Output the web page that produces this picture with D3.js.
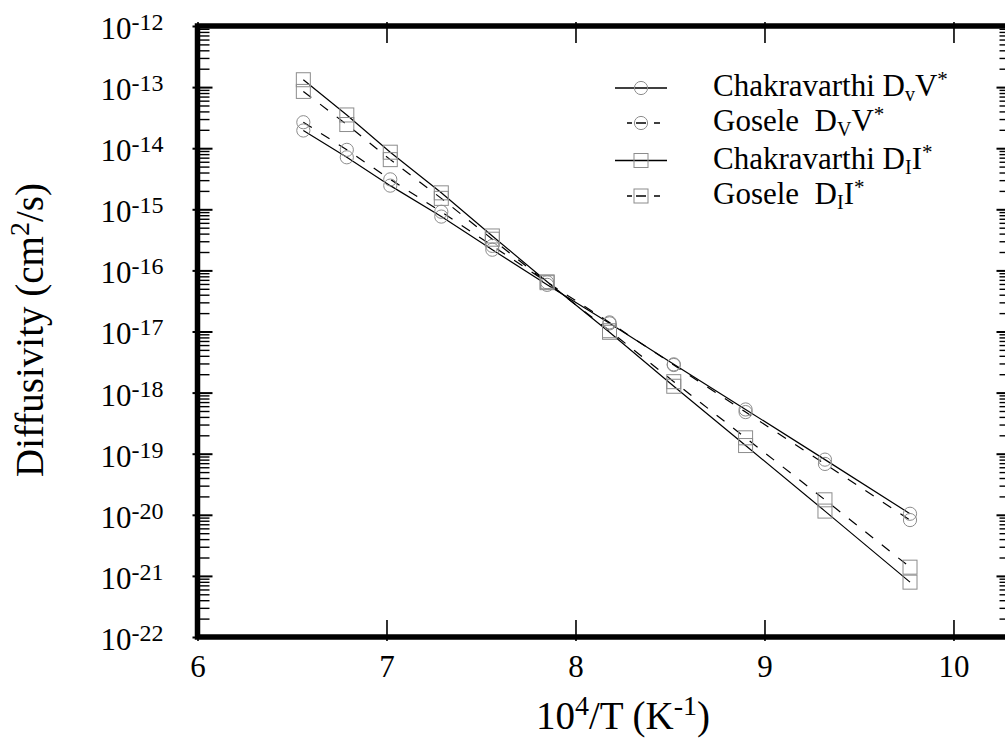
<!DOCTYPE html>
<html>
<head>
<meta charset="utf-8">
<script src="https://cdn.jsdelivr.net/npm/d3@7"></script>
<style>
  html, body { margin: 0; padding: 0; background: #fff; }
  svg { display: block; }
  text { font-family: "Liberation Serif", "Times New Roman", Times, serif; fill: #000; white-space: pre; }
</style>
</head>
<body>
<svg id="chart" width="1005" height="742"></svg>
<script>
// 10^4/T positions of the measurements (K^-1)
const invT = [6.56, 6.79, 7.02, 7.29, 7.56, 7.85, 8.18, 8.52, 8.90, 9.32, 9.77];

// Diffusivity products (cm^2/s)
const chakV   = [1.95e-14, 7.1e-15, 2.44e-15, 7.6e-16, 2.18e-16, 5.8e-17, 1.36e-17, 2.9e-18, 5.3e-19, 8.0e-20, 1.04e-20];
const goseleV = [2.66e-14, 9.4e-15, 3.09e-15, 9.1e-16, 2.52e-16, 6.4e-17, 1.41e-17, 2.83e-18, 4.8e-19, 6.8e-20, 8.2e-21];
const chakI   = [1.32e-13, 3.5e-14, 8.6e-15, 1.86e-15, 3.66e-16, 6.5e-17, 9.7e-18, 1.27e-18, 1.36e-19, 1.15e-20, 7.9e-22];
const goseleI = [8.5e-14, 2.44e-14, 6.5e-15, 1.51e-15, 3.24e-16, 6.3e-17, 1.03e-17, 1.51e-18, 1.82e-19, 1.76e-20, 1.39e-21];

// Axis ticks
const xTickValues = [6, 7, 8, 9, 10];
const xTickLabels = ["6", "7", "8", "9", "10"];
const yExponents = [-12, -13, -14, -15, -16, -17, -18, -19, -20, -21, -22];

// Series: legend name parts [prefix, subscript, main, superscript]
const series = [
  { name: ["Chakravarthi D", "v", "V", "*"], values: chakV,   marker: "circle", dashed: false },
  { name: ["Gosele  D", "V", "V", "*"],      values: goseleV, marker: "circle", dashed: true },
  { name: ["Chakravarthi D", "I", "I", "*"], values: chakI,   marker: "square", dashed: false },
  { name: ["Gosele  D", "I", "I", "*"],      values: goseleI, marker: "square", dashed: true }
];

const svg = d3.select("#chart");
const frame = { left: 197.5, right: 1011.5, top: 26, bottom: 637 };

const x = d3.scaleLinear().domain([6, 10.307]).range([frame.left, frame.right]);
const y = d3.scaleLog().domain([1e-22, 1e-12]).range([frame.bottom, frame.top]);

// minor ticks 2..9 within each decade
const minorTicks = [];
for (let e = -22; e < -12; e++) {
  for (let m = 2; m <= 9; m++) minorTicks.push(m * Math.pow(10, e));
}
const majorTicks = yExponents.map(e => Math.pow(10, e));

const axisStyle = g => {
  g.select(".domain").remove();
  g.selectAll(".tick line").attr("stroke", "#000");
};

// Left axis: major ticks with labels
const gLeft = svg.append("g").attr("transform", `translate(${frame.left},0)`)
  .call(d3.axisLeft(y).tickValues(majorTicks).tickSize(-15).tickPadding(34).tickFormat(() => ""))
  .call(axisStyle);
gLeft.selectAll(".tick line").attr("x1", -5).attr("stroke-width", 2);
gLeft.selectAll(".tick text")
  .attr("font-size", 31)
  .attr("text-anchor", "end")
  .attr("dy", 12.4)
  .each(function(d) {
    const t = d3.select(this);
    const e = Math.round(Math.log10(d));
    t.append("tspan").text("10");
    t.append("tspan").attr("font-size", 24).attr("dy", -9).text(String(e));
  });

// Left axis: minor ticks
svg.append("g").attr("transform", `translate(${frame.left},0)`)
  .call(d3.axisLeft(y).tickValues(minorTicks).tickSize(-12).tickFormat(() => ""))
  .call(axisStyle)
  .selectAll(".tick line").attr("stroke-width", 1.4);

// Right axis: inward ticks, no labels
svg.append("g").attr("transform", `translate(${frame.right},0)`)
  .call(d3.axisRight(y).tickValues(majorTicks).tickSize(-15).tickFormat(() => ""))
  .call(axisStyle)
  .selectAll(".tick line").attr("stroke-width", 2);
svg.append("g").attr("transform", `translate(${frame.right},0)`)
  .call(d3.axisRight(y).tickValues(minorTicks).tickSize(-12).tickFormat(() => ""))
  .call(axisStyle)
  .selectAll(".tick line").attr("stroke-width", 1.4);

// Bottom axis
const gBottom = svg.append("g").attr("transform", `translate(0,${frame.bottom})`)
  .call(d3.axisBottom(x).tickValues(xTickValues).tickSize(-17).tickPadding(20)
    .tickFormat((d, i) => xTickLabels[i]))
  .call(axisStyle);
gBottom.selectAll(".tick line").attr("y1", 4).attr("stroke-width", 1.6);
gBottom.selectAll(".tick text").attr("font-size", 31).attr("dy", "0.71em").attr("y", 18);

// Top axis
const gTop = svg.append("g").attr("transform", `translate(0,${frame.top})`)
  .call(d3.axisTop(x).tickValues(xTickValues).tickSize(-17).tickFormat(() => ""))
  .call(axisStyle);
gTop.selectAll(".tick line").attr("y1", -4).attr("stroke-width", 1.6);

// Frame
svg.append("rect")
  .attr("x", frame.left).attr("y", frame.top)
  .attr("width", frame.right - frame.left).attr("height", frame.bottom - frame.top)
  .attr("fill", "none").attr("stroke", "#000").attr("stroke-width", 5.5);

// Data lines
const line = d3.line().x(d => x(d[0])).y(d => y(d[1]));
const plot = svg.append("g");
series.forEach(s => {
  const pts = invT.map((t, i) => [t, s.values[i]]);
  plot.append("path")
    .datum(pts)
    .attr("d", line)
    .attr("fill", "none")
    .attr("stroke", "#000")
    .attr("stroke-width", 1.2)
    .attr("stroke-dasharray", s.dashed ? "10,11" : null);
});

// Markers
const markerColor = "#8c8c8c";
function drawMarker(g, kind, cx, cy) {
  if (kind === "circle") {
    g.append("circle").attr("cx", cx).attr("cy", cy).attr("r", 6.6)
      .attr("fill", "none").attr("stroke", markerColor).attr("stroke-width", 1);
  } else {
    g.append("rect").attr("x", cx - 7).attr("y", cy - 7).attr("width", 14).attr("height", 14)
      .attr("fill", "none").attr("stroke", markerColor).attr("stroke-width", 1);
  }
}
series.forEach(s => {
  invT.forEach((t, i) => drawMarker(plot, s.marker, x(t), y(s.values[i])));
});

// Legend
const legend = svg.append("g");
const legendBaselines = [96, 131, 168.5, 204];
series.forEach((s, i) => {
  const base = legendBaselines[i];
  const cy = base - 8;
  if (s.dashed) {
    legend.append("line").attr("x1", 627).attr("x2", 660).attr("y1", cy).attr("y2", cy)
      .attr("stroke", "#000").attr("stroke-width", 1.3).attr("stroke-dasharray", "5,4,10,8,6");
  } else {
    legend.append("line").attr("x1", 615).attr("x2", 667).attr("y1", cy).attr("y2", cy)
      .attr("stroke", "#000").attr("stroke-width", 1.3);
  }
  drawMarker(legend, s.marker, 641, cy);
  const t = legend.append("text").attr("x", 713).attr("y", base).attr("font-size", 31)
    .attr("xml:space", "preserve");
  t.append("tspan").text(s.name[0]);
  t.append("tspan").attr("font-size", 20).attr("dy", 5).text(s.name[1]);
  t.append("tspan").attr("dy", -5).text(s.name[2]);
  t.append("tspan").attr("font-size", 21).attr("dy", -10).text(s.name[3]);
});

// Axis titles
const xt = svg.append("text").attr("x", 623).attr("y", 729).attr("font-size", 39).attr("text-anchor", "middle");
xt.append("tspan").text("10");
xt.append("tspan").attr("font-size", 28).attr("dy", -14).text("4");
xt.append("tspan").attr("dy", 14).text("/T (K");
xt.append("tspan").attr("font-size", 28).attr("dy", -14).text("-1");
xt.append("tspan").attr("dy", 14).text(")");

const yt = svg.append("text").attr("transform", "translate(43,330) rotate(-90)")
  .attr("font-size", 39).attr("text-anchor", "middle");
yt.append("tspan").text("Diffusivity (cm");
yt.append("tspan").attr("font-size", 28).attr("dy", -14).text("2");
yt.append("tspan").attr("dy", 14).text("/s)");
</script>
</body>
</html>
